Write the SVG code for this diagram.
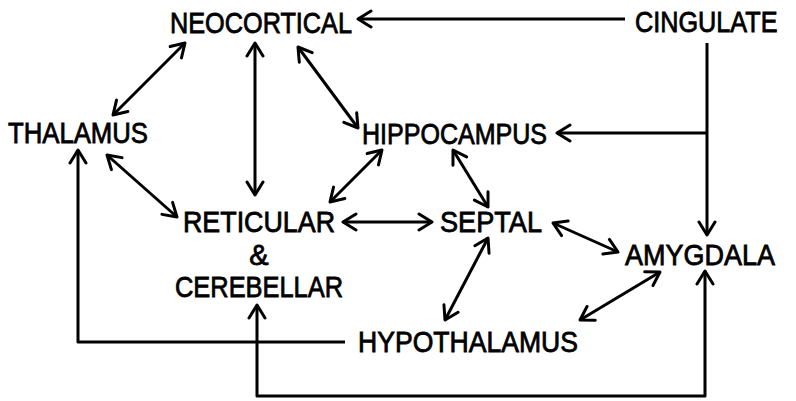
<svg xmlns="http://www.w3.org/2000/svg" width="796" height="401" viewBox="0 0 796 401">
<defs>
<style>
.lbl{font-family:"Liberation Sans",Arial,sans-serif;font-size:29px;fill:#000;stroke:#000;stroke-width:0.8}
.c{fill:none;stroke:#000;stroke-width:3;stroke-linejoin:round}
</style>
<marker id="ah" viewBox="-15 -10 17 20" markerWidth="17" markerHeight="20" refX="0" refY="0" orient="auto-start-reverse" markerUnits="userSpaceOnUse">
<path d="M-13,-8 L0,0 L-13,8" fill="none" stroke="#000" stroke-width="3" stroke-linejoin="round" stroke-linecap="round"/>
</marker>
</defs>
<rect width="796" height="401" fill="#fff"/>
<g id="connectors">
<line class="c" x1="625" y1="19" x2="358" y2="19" marker-end="url(#ah)"/>
<line class="c" x1="707" y1="43" x2="707" y2="235" marker-end="url(#ah)"/>
<line class="c" x1="707" y1="133" x2="557" y2="133" marker-end="url(#ah)"/>
<line class="c" x1="185" y1="43" x2="113" y2="115" marker-start="url(#ah)" marker-end="url(#ah)"/>
<line class="c" x1="255" y1="43" x2="255" y2="195" marker-start="url(#ah)" marker-end="url(#ah)"/>
<line class="c" x1="298" y1="47" x2="358" y2="128" marker-start="url(#ah)" marker-end="url(#ah)"/>
<line class="c" x1="107" y1="155" x2="177" y2="217" marker-start="url(#ah)" marker-end="url(#ah)"/>
<line class="c" x1="382" y1="150" x2="330" y2="202" marker-start="url(#ah)" marker-end="url(#ah)"/>
<line class="c" x1="343" y1="222" x2="432" y2="222" marker-start="url(#ah)" marker-end="url(#ah)"/>
<line class="c" x1="453" y1="150" x2="488" y2="207" marker-start="url(#ah)" marker-end="url(#ah)"/>
<line class="c" x1="553" y1="223" x2="618" y2="252" marker-start="url(#ah)" marker-end="url(#ah)"/>
<line class="c" x1="488" y1="238" x2="445" y2="320" marker-start="url(#ah)" marker-end="url(#ah)"/>
<line class="c" x1="660" y1="272" x2="580" y2="320" marker-start="url(#ah)" marker-end="url(#ah)"/>
<polyline class="c" points="345,342 78,342 78,150" marker-end="url(#ah)"/>
<polyline class="c" points="705,271 705,396 257,396 257,305" marker-start="url(#ah)" marker-end="url(#ah)"/>
</g>
<g id="neocortical"><text class="lbl" x="170" y="33" textLength="182" lengthAdjust="spacingAndGlyphs">NEOCORTICAL</text></g>
<g id="cingulate"><g transform="translate(635,32) scale(0.87,1)"><text class="lbl" x="0" y="0">CINGULATE</text></g></g>
<g id="thalamus"><text class="lbl" x="8" y="143" textLength="140" lengthAdjust="spacingAndGlyphs">THALAMUS</text></g>
<g id="hippocampus"><text class="lbl" x="362" y="144" textLength="185" lengthAdjust="spacingAndGlyphs">HIPPOCAMPUS</text></g>
<g id="reticular"><text class="lbl" x="183" y="232" textLength="152" lengthAdjust="spacingAndGlyphs">RETICULAR</text><text class="lbl" x="259" y="265" text-anchor="middle">&amp;</text><text class="lbl" x="175" y="297" textLength="168" lengthAdjust="spacingAndGlyphs">CEREBELLAR</text></g>
<g id="septal"><text class="lbl" x="440" y="232" textLength="102" lengthAdjust="spacingAndGlyphs">SEPTAL</text></g>
<g id="amygdala"><text class="lbl" x="625" y="265" textLength="150" lengthAdjust="spacingAndGlyphs">AMYGDALA</text></g>
<g id="hypothalamus"><text class="lbl" x="358" y="352" textLength="220" lengthAdjust="spacingAndGlyphs">HYPOTHALAMUS</text></g>
</svg>
